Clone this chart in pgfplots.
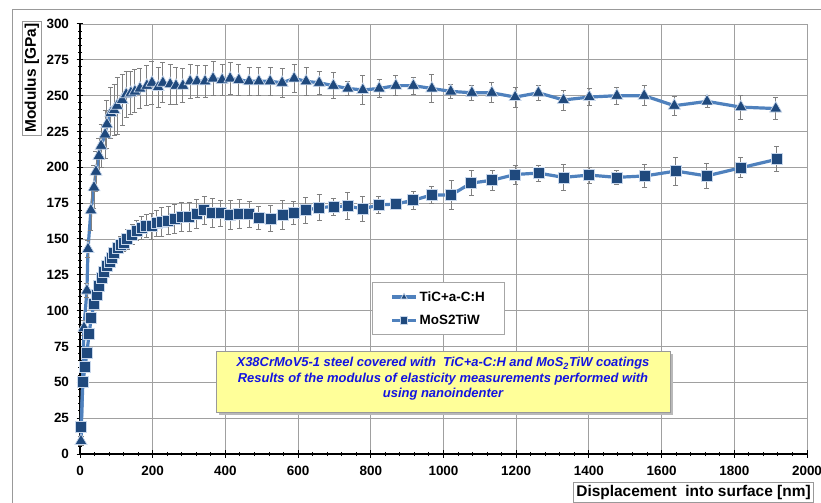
\documentclass[border=0pt]{standalone}
\usepackage{fontspec}
\setmainfont{Liberation Sans}
\usepackage{pgfplots}
\usepackage{pgfplotstable}
\pgfplotsset{compat=1.18}
\definecolor{lineblue}{RGB}{79,129,189}
\definecolor{markblue}{RGB}{31,73,125}
\definecolor{markedge}{RGB}{200,215,235}
\definecolor{errgray}{RGB}{128,128,128}
\definecolor{gridgray}{RGB}{160,160,160}
\definecolor{boxyellow}{RGB}{255,255,153}
\definecolor{textblue}{RGB}{20,20,225}

\pgfplotstableread{
x y e
2.75 9 3
11 88 5
19 114 5
22 143 6
30 170 14
38.5 186 15
44 197 14
52 208 12
58 215 15
69 223 17
74 230 17
85 238 18
94 240 18
102 243 20
116 247 18
127 251 16
140 252 15
151 253 15
165 255 14
184 257 14
198 259 15
215 256 14
228 259 14
248 258 14
264 257 13
283 257 12
303 260 12
322 260 11
344 260 11
366 262 12
391 261 11
413 262 11
437 261 11
465 260 10
492 260 10
523 260 10
556 259 10
589 262 10
622 260 10
658 259 8
697 257 9
737 255 5
778 254 10
823 255 6
869 257 7
917 257 6
968 255 10
1020 253 5
1078 252 5
1133 252 7
1197 249 7
1261 252 5.5
1330 247 7
1401 249 6
1477 250 6
1552 250 7
1635 243 6.5
1725 246 4.5
1818 242 8.5
1914 241 7.5
}\tic

\pgfplotstableread{
x y e
3 19 2
8 50 2
14 61 2
19 70.5 2
25 84 3
31 95 3
39 105 3
46 111 3
51 117 3
60 123 4
66 127 4
73 131 4
81 134 4
88 137 5
94 140 5
103 143.5 5
112 146 6
121 147 6
130 150 7
144 153 7
156 156 7
170 157.5 8
182 159 8
197 159 9
211 161 9
225 162 10
243 163 10
261 164 10
280 165.6 10
300 165.6 10
321 167.4 10
342 170 10
364 168.4 10
387 168 9
413 166.7 10
438 167.4 10
465 167.4 9
492 165 8
525 164.4 9
557 166.7 10
587 168 8
621 170 9
658 172 9
697 172.5 6
736 173 9.5
777 171 9
821 173.7 6
868 174.4 3
917 177 6.4
967 180.7 6
1021 180.7 10
1076 189 8.7
1134 191 7
1197 195 6.6
1261 196 5.5
1330 193 9
1401 194.6 5.5
1476 193 4.6
1554 194 8
1639 197.4 9.7
1724 194 8.7
1818 199.7 7
1917 205.6 8.7
}\mos

\begin{document}
\begin{tikzpicture}
\useasboundingbox (0bp,0bp) rectangle (821bp,503bp);
\draw[gray!80, line width=0.8bp] (12bp,-10bp) -- (12bp,494bp) -- (840bp,494bp);
\begin{axis}[
  at={(80bp,49bp)}, anchor=south west,
  scale only axis, width=727bp, height=430bp,
  xmin=0, xmax=2000, ymin=0, ymax=300,
  xtick={0,200,...,2000}, ytick={0,25,...,300},
  minor x tick num=4, minor y tick num=4,
  axis x line=bottom, axis y line=left,
  axis line style={black, line width=2bp, -},
  tick align=center,
  major tick length=7bp, minor tick length=4bp,
  every tick/.style={black, line width=1bp},
  grid=major, major grid style={gridgray, line width=0.9bp},
  ticklabel style={font=\bfseries\fontsize{13.5}{14}\selectfont},
  xticklabel style={yshift=-5bp},
  yticklabel style={xshift=-4bp},
  /pgf/number format/assume math mode=true,
  /pgf/number format/1000 sep={},
  clip=false,
  legend style={at={(rel axis cs:0.4017,0.4)}, anchor=north west,
    draw=gray!70, line width=0.8bp, fill=white,
    font=\bfseries\fontsize{13.5}{14}\selectfont,
    inner xsep=18bp, inner ysep=7bp, row sep=8bp,
    /tikz/every even column/.style={column sep=2bp}},
  legend cell align=left,
  legend image code/.code={\draw[#1, mark repeat=2, mark phase=2] plot coordinates {(0bp,0bp) (12bp,0bp) (24bp,0bp)};},
  legend image post style={mark size=3.8bp},
]
\addplot[color=lineblue, line width=3.2bp, mark=triangle*, mark size=7bp,
  mark options={fill=markblue, draw=markedge, line width=0.7bp},
  error bars/.cd, y dir=both, y explicit,
  error bar style={draw=errgray, line width=0.8bp},
  error mark options={rotate=90, mark size=2.5bp, draw=errgray, line width=0.8bp}]
  table[x=x, y=y, y error=e] {\tic};
\addlegendentry{TiC+a-C:H}
\addplot[color=lineblue, line width=3.2bp, mark=square*, mark size=5.5bp,
  mark options={fill=markblue, draw=markedge, line width=0.7bp},
  error bars/.cd, y dir=both, y explicit,
  error bar style={draw=errgray, line width=0.8bp},
  error mark options={rotate=90, mark size=2.5bp, draw=errgray, line width=0.8bp}]
  table[x=x, y=y, y error=e] {\mos};
\addlegendentry{MoS2TiW}
\end{axis}
\fill[gray!55] (219bp,88bp) rectangle (673bp,149bp);
\node[draw=gray!80, fill=boxyellow, minimum width=454bp, minimum height=61bp, inner sep=0pt] at (443bp,121.5bp) {};
\node[align=center, text=textblue, font=\bfseries\itshape\fontsize{13}{15.5}\selectfont] at (443bp,124bp)
  {X38CrMoV5-1 steel covered with\ \ TiC+a-C:H and MoS\textsubscript{2}TiW coatings\\
   Results of the modulus of elasticity measurements performed with\\
   using nanoindenter};
\node[draw=gray!80, line width=0.8bp, rotate=90, inner sep=2.5bp, font=\bfseries\fontsize{15.5}{16}\selectfont] at (32bp,425bp) {Modulus [GPa]};
\node[draw=gray!80, line width=0.8bp, anchor=north west, inner sep=3bp, font=\bfseries\fontsize{15.5}{16}\selectfont] at (573bp,21bp) {Displacement\ \ into surface [nm]};
\end{tikzpicture}
\end{document}
